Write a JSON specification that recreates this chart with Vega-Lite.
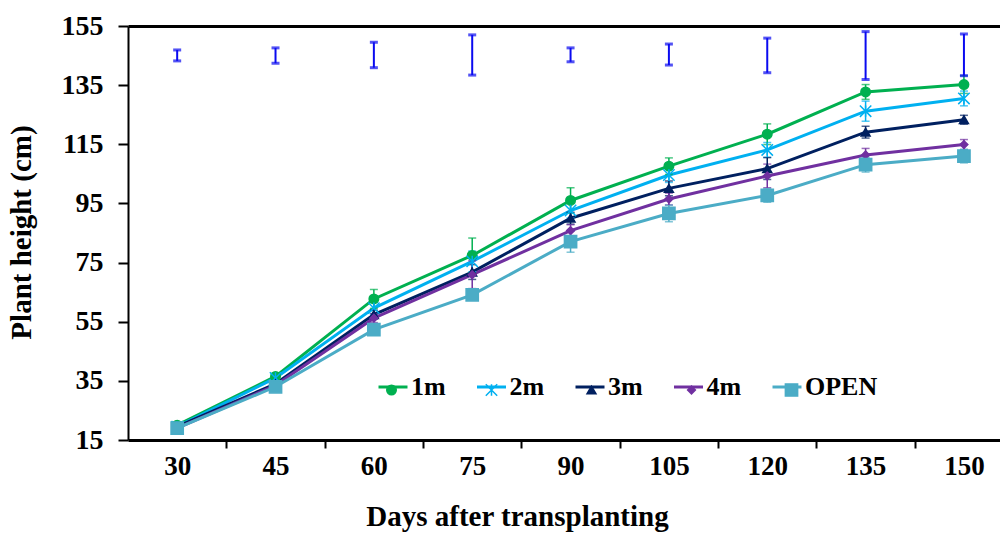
{
  "$schema": "https://vega.github.io/schema/vega-lite/v6.json",
  "width": 872,
  "height": 414,
  "autosize": {"type": "none"},
  "padding": {"left": 128, "top": 26, "right": 0, "bottom": 93},
  "background": "white",
  "config": {"view": {"stroke": null}, "font": "Liberation Serif", "axis": {"grid": false}},
  "datasets": {
    "pts": [
      {"day": 30, "series": "1m", "marker": "1m", "h": 20, "lo": 19.2, "hi": 20.8},
      {"day": 45, "series": "1m", "marker": "1m", "h": 36.5, "lo": 35.5, "hi": 37.5},
      {"day": 60, "series": "1m", "marker": "1m", "h": 62.7, "lo": 59.5, "hi": 65.9},
      {"day": 75, "series": "1m", "marker": "1m", "h": 77.4, "lo": 71.5, "hi": 83.3},
      {"day": 90, "series": "1m", "marker": "1m", "h": 96, "lo": 91.7, "hi": 100.3},
      {"day": 105, "series": "1m", "marker": "1m", "h": 107.6, "lo": 104.8, "hi": 110.4},
      {"day": 120, "series": "1m", "marker": "1m", "h": 118.4, "lo": 114.9, "hi": 121.9},
      {"day": 135, "series": "1m", "marker": "1m", "h": 132.7, "lo": 130.2, "hi": 135.2},
      {"day": 150, "series": "1m", "marker": "1m", "h": 135.2, "lo": 132.2, "hi": 138.2},
      {"day": 30, "series": "2m", "marker": "2m", "h": 19.5, "lo": 18.8, "hi": 20.2},
      {"day": 45, "series": "2m", "marker": "2m", "h": 36, "lo": 35, "hi": 37},
      {"day": 60, "series": "2m", "marker": "2m", "h": 59.6, "lo": 57.6, "hi": 61.6},
      {"day": 75, "series": "2m", "marker": "2m", "h": 75.4, "lo": 71.9, "hi": 78.9},
      {"day": 90, "series": "2m", "marker": "2m", "h": 92.6, "lo": 90.1, "hi": 95.1},
      {"day": 105, "series": "2m", "marker": "2m", "h": 104.6, "lo": 102.1, "hi": 107.1},
      {"day": 120, "series": "2m", "marker": "2m", "h": 113.1, "lo": 110.6, "hi": 115.6},
      {"day": 135, "series": "2m", "marker": "2m", "h": 126.2, "lo": 122.8, "hi": 129.6},
      {"day": 150, "series": "2m", "marker": "2m", "h": 130.5, "lo": 128, "hi": 133},
      {"day": 30, "series": "3m", "marker": "3m", "h": 19.5, "lo": 18.9, "hi": 20.1},
      {"day": 45, "series": "3m", "marker": "3m", "h": 34, "lo": 33.2, "hi": 34.8},
      {"day": 60, "series": "3m", "marker": "3m", "h": 57.4, "lo": 55.9, "hi": 58.9},
      {"day": 75, "series": "3m", "marker": "3m", "h": 71.8, "lo": 69.3, "hi": 74.3},
      {"day": 90, "series": "3m", "marker": "3m", "h": 90, "lo": 88, "hi": 92},
      {"day": 105, "series": "3m", "marker": "3m", "h": 100.1, "lo": 97.6, "hi": 102.6},
      {"day": 120, "series": "3m", "marker": "3m", "h": 106.8, "lo": 103.1, "hi": 110.5},
      {"day": 135, "series": "3m", "marker": "3m", "h": 119.1, "lo": 117.1, "hi": 121.1},
      {"day": 150, "series": "3m", "marker": "3m", "h": 123.3, "lo": 121.8, "hi": 124.8},
      {"day": 30, "series": "4m", "marker": "4m", "h": 19, "lo": 18.4, "hi": 19.6},
      {"day": 45, "series": "4m", "marker": "4m", "h": 33.5, "lo": 32.7, "hi": 34.3},
      {"day": 60, "series": "4m", "marker": "4m", "h": 56.2, "lo": 54.7, "hi": 57.7},
      {"day": 75, "series": "4m", "marker": "4m", "h": 70.9, "lo": 66.2, "hi": 75.6},
      {"day": 90, "series": "4m", "marker": "4m", "h": 85.8, "lo": 83.8, "hi": 87.8},
      {"day": 105, "series": "4m", "marker": "4m", "h": 96.5, "lo": 94.5, "hi": 98.5},
      {"day": 120, "series": "4m", "marker": "4m", "h": 104.3, "lo": 100.3, "hi": 108.3},
      {"day": 135, "series": "4m", "marker": "4m", "h": 111.4, "lo": 109.2, "hi": 113.6},
      {"day": 150, "series": "4m", "marker": "4m", "h": 114.9, "lo": 113.2, "hi": 116.6},
      {"day": 30, "series": "OPEN", "marker": "OPEN", "h": 19, "lo": 18.4, "hi": 19.6},
      {"day": 45, "series": "OPEN", "marker": "OPEN", "h": 33, "lo": 32, "hi": 34},
      {"day": 60, "series": "OPEN", "marker": "OPEN", "h": 52.3, "lo": 50.8, "hi": 53.8},
      {"day": 75, "series": "OPEN", "marker": "OPEN", "h": 64.1, "lo": 62.6, "hi": 65.6},
      {"day": 90, "series": "OPEN", "marker": "OPEN", "h": 82.1, "lo": 78.5, "hi": 85.7},
      {"day": 105, "series": "OPEN", "marker": "OPEN", "h": 91.6, "lo": 88.8, "hi": 94.4},
      {"day": 120, "series": "OPEN", "marker": "OPEN", "h": 97.7, "lo": 95.4, "hi": 100},
      {"day": 135, "series": "OPEN", "marker": "OPEN", "h": 108.1, "lo": 105.6, "hi": 110.6},
      {"day": 150, "series": "OPEN", "marker": "OPEN", "h": 111, "lo": 108.7, "hi": 113.3}
    ],
    "lsd": [
      {"day": 30, "lo": 143.2, "hi": 146.9},
      {"day": 45, "lo": 142.4, "hi": 147.6},
      {"day": 60, "lo": 140.9, "hi": 149.5},
      {"day": 75, "lo": 138.4, "hi": 152},
      {"day": 90, "lo": 142.9, "hi": 147.6},
      {"day": 105, "lo": 141.8, "hi": 148.9},
      {"day": 120, "lo": 139.2, "hi": 150.9},
      {"day": 135, "lo": 136.9, "hi": 153.1},
      {"day": 150, "lo": 138.2, "hi": 152.3}
    ]
  },
  "resolve": {"axis": {"x": "independent", "y": "independent"}},
  "layer": [
    {
      "data": {"name": "pts"},
      "mark": {"type": "line", "strokeWidth": 3},
      "encoding": {
        "x": {
          "field": "day", "type": "quantitative",
          "scale": {"domain": [22.5, 155.5], "nice": false, "zero": false},
          "axis": {
            "orient": "bottom",
            "values": [30, 45, 60, 75, 90, 105, 120, 135, 150],
            "ticks": false, "tickSize": 0,
            "domainColor": "black", "domainWidth": 3,
            "labelFont": "Liberation Serif", "labelFontWeight": "bold", "labelFontSize": 27, "labelColor": "black",
            "labelPadding": 13, "labelFlush": false, "labelOverlap": false,
            "title": "Days after transplanting",
            "titleFont": "Liberation Serif", "titleFontWeight": "bold", "titleFontSize": 29, "titleColor": "black",
            "titleX": 389, "titleY": 85, "titleAlign": "center", "titleBaseline": "alphabetic"
          }
        },
        "y": {
          "field": "h", "type": "quantitative",
          "scale": {"domain": [15, 155], "nice": false, "zero": false},
          "axis": {
            "orient": "left",
            "values": [15, 35, 55, 75, 95, 115, 135, 155],
            "tickSize": 10, "tickWidth": 2, "tickColor": "black",
            "domainColor": "black", "domainWidth": 2,
            "labelFont": "Liberation Serif", "labelFontWeight": "bold", "labelFontSize": 28, "labelColor": "black",
            "labelPadding": 15, "labelOverlap": false,
            "title": "Plant height (cm)",
            "titleFont": "Liberation Serif", "titleFontWeight": "bold", "titleFontSize": 29, "titleColor": "black",
            "titleX": -98, "titleY": 206, "titleAngle": 270, "titleAlign": "center", "titleBaseline": "alphabetic"
          }
        },
        "color": {
          "field": "series", "type": "nominal",
          "scale": {"domain": ["1m", "2m", "3m", "4m", "OPEN"], "range": ["#00B050", "#00B0F0", "#002060", "#7030A0", "#4BACC6"]},
          "legend": {
            "title": null, "orient": "none", "legendX": 249, "legendY": 345,
            "direction": "horizontal", "columns": 5, "columnPadding": 24.5,
            "symbolType": "stroke", "symbolSize": 841, "symbolStrokeWidth": 3,
            "labelFont": "Liberation Serif", "labelFontWeight": "bold", "labelFontSize": 26, "labelColor": "black",
            "labelOffset": 2, "labelLimit": 200
          }
        }
      }
    },
    {
      "data": {"name": "pts"},
      "mark": {"type": "errorbar", "ticks": true, "size": 8, "thickness": 1.5},
      "encoding": {
        "x": {"field": "day", "type": "quantitative", "axis": null},
        "y": {"field": "lo", "type": "quantitative", "axis": null},
        "y2": {"field": "hi"},
        "color": {"field": "series", "type": "nominal", "legend": null}
      }
    },
    {
      "data": {"name": "pts"},
      "mark": {"type": "point", "filled": true, "opacity": 1, "strokeWidth": 1.5},
      "encoding": {
        "x": {
          "field": "day", "type": "quantitative",
          "axis": {
            "orient": "bottom",
            "values": [37.5, 52.5, 67.5, 82.5, 97.5, 112.5, 127.5, 142.5],
            "labels": false, "domain": false, "ticks": true, "tickSize": 8, "tickWidth": 2, "tickColor": "black",
            "title": null, "grid": false
          }
        },
        "y": {"field": "h", "type": "quantitative", "axis": null},
        "fill": {
          "field": "marker", "type": "nominal",
          "scale": {"range": ["#00B050", "#00B0F0", "#002060", "#7030A0", "#4BACC6"]},
          "legend": {"title": null}
        },
        "stroke": {
          "field": "marker", "type": "nominal",
          "scale": {"range": ["#00B050", "#00B0F0", "#002060", "#7030A0", "#4BACC6"]},
          "legend": {"title": null}
        },
        "size": {
          "field": "marker", "type": "nominal",
          "scale": {"type": "ordinal", "range": [90, 130, 80, 60, 150]},
          "legend": {"title": null}
        },
        "shape": {
          "field": "marker", "type": "nominal",
          "scale": {"range": ["circle", "M-1,-1L1,1M-1,1L1,-1M0,-1L0,1", "triangle-up", "diamond", "square"]},
          "legend": {
            "title": null, "orient": "none", "legendX": 250.5, "legendY": 351,
            "direction": "horizontal", "columns": 5, "columnPadding": 74,
            "symbolStrokeWidth": 1.5,
            "labelExpr": "''", "labelOffset": 0, "labelFontSize": 26
          }
        }
      }
    },
    {
      "data": {"name": "lsd"},
      "mark": {"type": "errorbar", "ticks": {"thickness": 3, "color": "#0A0AF0"}, "rule": {"color": "#0A0AF0"}, "size": 8, "thickness": 2, "color": "#0A0AF0"},
      "encoding": {
        "x": {
          "field": "day", "type": "quantitative",
          "axis": {"orient": "top", "labels": false, "ticks": false, "domain": true, "domainColor": "black", "domainWidth": 3, "title": null, "grid": false}
        },
        "y": {"field": "lo", "type": "quantitative", "axis": null},
        "y2": {"field": "hi"}
      }
    }
  ]
}
